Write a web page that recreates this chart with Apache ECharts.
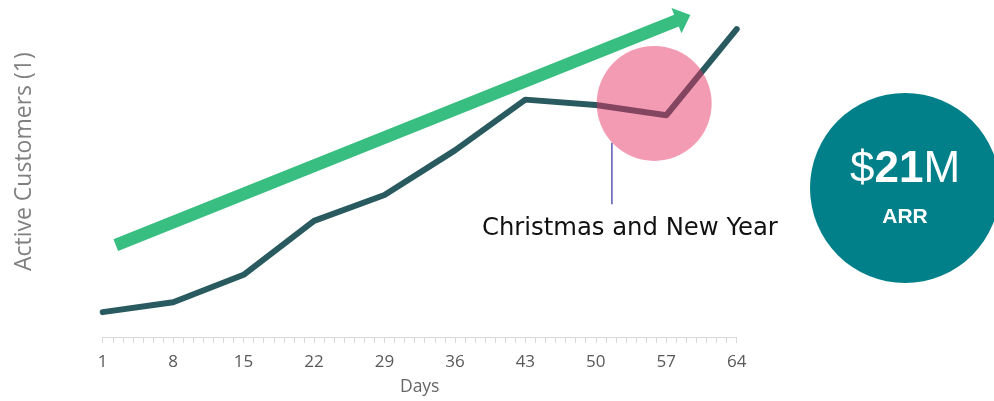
<!DOCTYPE html>
<html>
<head>
<meta charset="utf-8">
<script src="https://cdn.jsdelivr.net/npm/echarts@6/dist/echarts.min.js"></script>
<style>
html,body{margin:0;padding:0;background:#fff;}
#chart{width:994px;height:401px;}
</style>
</head>
<body>
<div id="chart"></div>
<script>
// ---- data ----
const days = [1, 8, 15, 22, 29, 36, 43, 50, 57, 64];
const activeCustomers = [7.8, 10.9, 19.5, 36.4, 44.5, 58.5, 74.4, 72.7, 69.5, 96.5];
const tickLabels = [1, 8, 15, 22, 29, 36, 43, 50, 57, 64];
const dayTicks = [];
for (let d = 1; d <= 64; d++) dayTicks.push(d);
const trendArrow = [2.3, 28.8, 59.4, 100.9];      // from (day, value) to (day, value)
const holidayCircle = [55.8, 73.2];               // centre (day, value)
const holidayPointer = [[51.6, 60.9], [51.6, 41.6]];
const holidayText = 'Christmas and New Year';
const yTitle = 'Active Customers (1)';
const xTitle = 'Days';
const arrValue = '21';
const arrLabel = 'ARR';

const chart = echarts.init(document.getElementById('chart'));
chart.setOption({
  animation: false,
  backgroundColor: '#fff',
  grid: { left: 102.7, right: 257.3, top: 2, bottom: 62.7, containLabel: false },
  xAxis: {
    type: 'value', min: 1, max: 64,
    splitLine: { show: false },
    axisLine: { show: true, lineStyle: { color: '#D9D9D9', width: 1.2 } },
    axisTick: { show: true, customValues: dayTicks, length: 6, lineStyle: { color: '#D9D9D9', width: 1 } },
    axisLabel: { customValues: tickLabels, color: '#595959', fontSize: 17, fontFamily: 'Open Sans', margin: 17 },
    name: xTitle, nameLocation: 'middle', nameGap: 41,
    nameTextStyle: { color: '#666666', fontSize: 17.5, fontFamily: 'Open Sans' }
  },
  yAxis: {
    type: 'value', min: 0, max: 105,
    axisLine: { show: false }, axisTick: { show: false },
    axisLabel: { show: false }, splitLine: { show: false }
  },
  series: [
    {
      type: 'custom',
      silent: true,
      data: [trendArrow],
      encode: { x: [0, 2], y: [1, 3] },
      renderItem: function (params, api) {
        const p0 = api.coord([api.value(0), api.value(1)]);
        const p1 = api.coord([api.value(2), api.value(3)]);
        const dx = p1[0] - p0[0], dy = p1[1] - p0[1];
        const len = Math.sqrt(dx * dx + dy * dy);
        const ux = dx / len, uy = dy / len;
        const nx = -uy, ny = ux;
        const w = 6.3, hw = 13.5, hl = 15;
        const bx = p1[0] - ux * hl, by = p1[1] - uy * hl;
        return {
          type: 'polygon',
          shape: { points: [
            [p0[0] + nx * w, p0[1] + ny * w],
            [bx + nx * w, by + ny * w],
            [bx + nx * hw, by + ny * hw],
            [p1[0], p1[1]],
            [bx - nx * hw, by - ny * hw],
            [bx - nx * w, by - ny * w],
            [p0[0] - nx * w, p0[1] - ny * w]
          ] },
          style: { fill: '#37BE80' }
        };
      }
    },
    {
      type: 'line',
      silent: true,
      data: days.map((d, i) => [d, activeCustomers[i]]),
      symbol: 'none',
      lineStyle: { color: '#285A5F', width: 6, cap: 'round', join: 'round' },
      z: 3
    },
    {
      type: 'line',
      silent: true,
      data: holidayPointer,
      symbol: 'none',
      lineStyle: { color: '#3D3DA3', width: 1.3 },
      z: 2
    },
    {
      type: 'scatter',
      silent: true,
      data: [holidayCircle],
      symbol: 'circle',
      symbolSize: 115,
      itemStyle: { color: 'rgba(232,45,99,0.48)', opacity: 1 },
      z: 5
    }
  ],
  graphic: [
    {
      type: 'text', x: 24.5, y: 161.7, rotation: Math.PI / 2,
      style: { text: yTitle, fill: '#808080', fontSize: 23, fontFamily: 'Open Sans',
               textAlign: 'center', textVerticalAlign: 'middle' }
    },
    {
      type: 'text', x: 482, y: 228.3,
      style: { text: holidayText, fill: '#111111', fontSize: 24.3, fontFamily: 'DejaVu Sans',
               textAlign: 'left', textVerticalAlign: 'middle' }
    },
    {
      type: 'circle', shape: { cx: 905, cy: 188, r: 95 },
      style: { fill: '#01808A' }
    },
    {
      type: 'text', x: 905, y: 170,
      style: {
        text: '{a|$}{b|' + arrValue + '}{a|M}',
        textAlign: 'center', textVerticalAlign: 'middle',
        rich: {
          a: { fill: '#fff', color: '#fff', fontSize: 44, fontFamily: 'Liberation Sans' },
          b: { fill: '#fff', color: '#fff', fontSize: 44, fontWeight: 'bold', fontFamily: 'Liberation Sans' }
        }
      }
    },
    {
      type: 'text', x: 905, y: 217.5,
      style: { text: arrLabel, fill: '#fff', fontSize: 21, fontWeight: 'bold', fontFamily: 'Liberation Sans',
               textAlign: 'center', textVerticalAlign: 'middle' }
    }
  ]
});
</script>
</body>
</html>
